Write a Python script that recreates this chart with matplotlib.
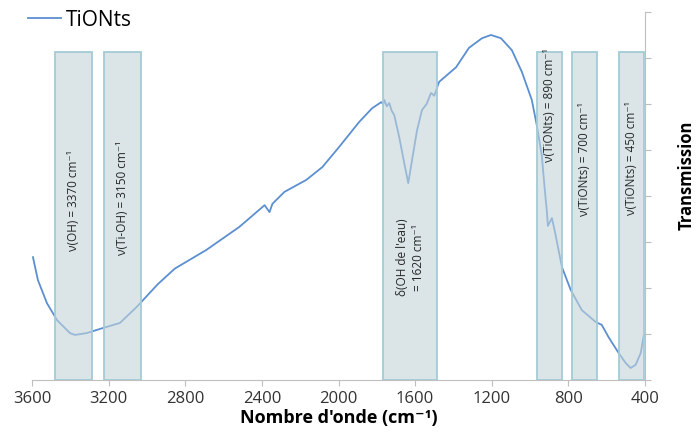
import matplotlib
matplotlib.use('Agg')
import matplotlib.pyplot as plt
from matplotlib.patches import Rectangle

plt.rcParams['font.family'] = ['Open Sans', 'DejaVu Sans']

# Spectrum (wavenumber cm-1, transmission a.u.)
wavenumber = [3595, 3569, 3522, 3469, 3402, 3376, 3314, 3230, 3141, 3053,
              2944, 2855, 2689, 2517, 2386, 2360, 2345, 2282, 2168, 2084,
              1996, 1892, 1824, 1777, 1766, 1761, 1748, 1735, 1722, 1709,
              1683, 1657, 1636, 1616, 1590, 1564, 1540, 1517, 1500, 1475,
              1386, 1319, 1251, 1204, 1152, 1095, 1043, 991, 965, 939,
              923, 912, 907, 897, 886, 870, 834, 788, 730, 657,
              626, 590, 538, 501, 475, 449, 422, 406]
transmission = [2.67, 2.17, 1.67, 1.30, 1.02, 0.98, 1.02, 1.13, 1.24, 1.59,
                2.08, 2.42, 2.83, 3.33, 3.80, 3.65, 3.83, 4.09, 4.35, 4.63,
                5.07, 5.61, 5.91, 6.04, 6.00, 6.09, 5.95, 6.02, 5.85, 5.76,
                5.28, 4.72, 4.28, 4.78, 5.43, 5.87, 6.00, 6.24, 6.18, 6.48,
                6.80, 7.22, 7.43, 7.50, 7.43, 7.17, 6.70, 6.09, 5.54, 4.89,
                4.13, 3.65, 3.35, 3.43, 3.52, 3.22, 2.46, 1.96, 1.52, 1.26,
                1.20, 0.93, 0.59, 0.37, 0.26, 0.33, 0.59, 0.98]

# Assignment bands
band_hi = [3480, 3225, 1767, 965, 782, 538]
band_lo = [3287, 3032, 1485, 835, 652, 405]
band_top = 7.13
band_lbl = ['ν(OH) = 3370 cm⁻¹', 'ν(Ti-OH) = 3150 cm⁻¹',
            "δ(OH de l'eau)\n= 1620 cm⁻¹", 'ν(TiONts) = 890 cm⁻¹',
            'ν(TiONts) = 700 cm⁻¹', 'ν(TiONts) = 450 cm⁻¹']
lbl_y = [3.91, 3.96, 2.67, 5.98, 4.80, 4.83]

xticks = [3600, 3200, 2800, 2400, 2000, 1600, 1200, 800, 400]

fig = plt.figure(figsize=(6.96, 4.37), dpi=100)
ax = fig.add_axes([32/696, 1-380/437, (645-32)/696, 368/437])

ax.plot(wavenumber, transmission, color='#5b8fd0', lw=1.3, label='TiONts')

for lo, hi, txt, ty in zip(band_lo, band_hi, band_lbl, lbl_y):
    ax.add_patch(Rectangle((lo, 0), hi - lo, band_top, facecolor='#c3d4da',
                           alpha=0.6, edgecolor='none', zorder=3))
    ax.add_patch(Rectangle((lo, 0), hi - lo, band_top, facecolor='none',
                           edgecolor='#a3cbd6', lw=1.3, zorder=3))
    ax.text((lo + hi) / 2, ty, txt, rotation=90, ha='center', va='center',
            fontsize=8.5, color='#262626', zorder=4, linespacing=1.3)

ax.set_xlim(3600, 400)
ax.set_ylim(0, 8)
ax.set_xticks(xticks)
ax.set_yticks(range(0, 9))
ax.yaxis.tick_right()
ax.tick_params(axis='y', labelright=False, direction='out', length=4,
               color='#bfbfbf')
ax.tick_params(axis='x', direction='out', length=4, color='#bfbfbf',
               labelsize=12, labelcolor='#333333', pad=4)
for s in ['left', 'top']:
    ax.spines[s].set_visible(False)
for s in ['bottom', 'right']:
    ax.spines[s].set_color('#bfbfbf')

ax.set_xlabel("Nombre d'onde (cm⁻¹)", fontsize=13, fontweight='bold',
              labelpad=1)
fig.text(687/696, 1-175/437, 'Transmission', rotation=90, ha='center',
         va='center', fontsize=12, fontweight='bold')

ax.legend(loc='center left', bbox_to_anchor=(28/696, 1-20/437),
          bbox_transform=fig.transFigure, frameon=False, fontsize=15,
          handlelength=1.6, handletextpad=0.2, borderpad=0, borderaxespad=0)

fig.savefig('out.png', dpi=100)
